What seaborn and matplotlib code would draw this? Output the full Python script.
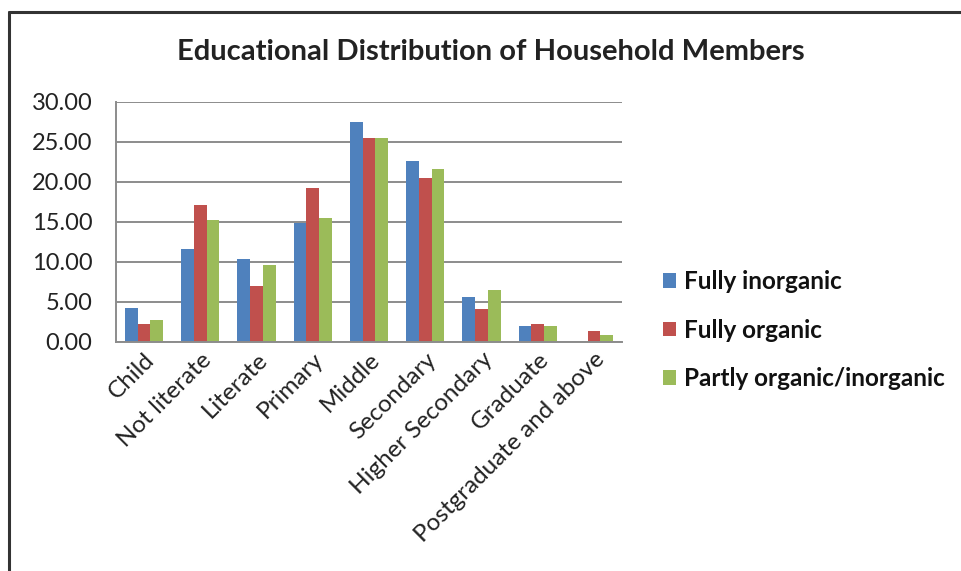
import matplotlib
matplotlib.use("Agg")
import matplotlib.pyplot as plt
from matplotlib.lines import Line2D
from matplotlib.patches import Patch
import seaborn as sns
import pandas as pd

categories = ["Child", "Not literate", "Literate", "Primary", "Middle",
              "Secondary", "Higher Secondary", "Graduate", "Postgraduate and above"]
series_names = ["Fully inorganic", "Fully organic", "Partly organic/inorganic"]
fully_inorganic = [4.2, 11.6, 10.4, 14.9, 27.45, 22.6, 5.65, 2.05, 0.0]
fully_organic = [2.25, 17.1, 7.0, 19.2, 25.45, 20.45, 4.1, 2.3, 1.35]
partly = [2.75, 15.25, 9.6, 15.45, 25.45, 21.6, 6.5, 2.05, 0.9]
yticks = [0, 5, 10, 15, 20, 25, 30]
colors = ["#4F81BD", "#C0504D", "#9BBB59"]

rows = []
for name, vals in zip(series_names, [fully_inorganic, fully_organic, partly]):
    for c, v in zip(categories, vals):
        rows.append({"cat": c, "series": name, "value": v})
df = pd.DataFrame(rows)

sns.set_theme(style="white")
plt.rcParams['font.family'] = ['Lato', 'DejaVu Sans']

fig = plt.figure(figsize=(9.61, 5.71), dpi=100)
ax = fig.add_axes([116/961, 1-342/571, (622-116)/961, (342-102)/571])

sns.barplot(data=df, x="cat", y="value", hue="series", order=categories,
            hue_order=series_names, palette=colors, width=0.68, ax=ax,
            saturation=1, legend=False, edgecolor="none")

ax.set_ylim(0, 30)
ax.set_xlim(-0.5, len(categories) - 0.5)
ax.set_yticks(yticks)
ax.set_yticklabels([f"{v:.2f}" for v in yticks], fontsize=17, color="#222222")
ax.yaxis.grid(True, color="#8c8c8c", linewidth=1.4)
ax.set_axisbelow(True)
ax.tick_params(axis="y", length=0, pad=17)
ax.tick_params(axis="x", length=0, pad=5)
ax.set_xlabel("")
ax.set_ylabel("")
ax.set_xticks(range(len(categories)))
ax.set_xticklabels(categories, rotation=45, ha="right", rotation_mode="anchor",
                   fontsize=17.5, color="#222222")
for s in ["top", "right"]:
    ax.spines[s].set_visible(False)
for s in ["left", "bottom"]:
    ax.spines[s].set_color("#8c8c8c")
    ax.spines[s].set_linewidth(1.4)

fig.text(491/961, 1-52/571, "Educational Distribution of Household Members",
         ha="center", va="center", fontsize=21, fontweight="bold", color="#222222")

handles = [Patch(facecolor=c, edgecolor="none") for c in colors]
leg = fig.legend(handles, series_names, loc="center left",
                 bbox_to_anchor=(663/961, 1-330/571), frameon=False,
                 prop={"size": 17.5, "weight": "bold"}, handlelength=0.55,
                 handleheight=0.55, handletextpad=0.3, labelspacing=1.05,
                 borderpad=0, borderaxespad=0)
for t in leg.get_texts():
    t.set_color("#111111")

# outer frame lines (top and left)
fig.add_artist(Line2D([9/961, 1.0], [1-12/571, 1-12/571], color="#333333", linewidth=2.2))
fig.add_artist(Line2D([9/961, 9/961], [0, 1-12/571], color="#333333", linewidth=2.2))

fig.savefig("out.png", dpi=100)
